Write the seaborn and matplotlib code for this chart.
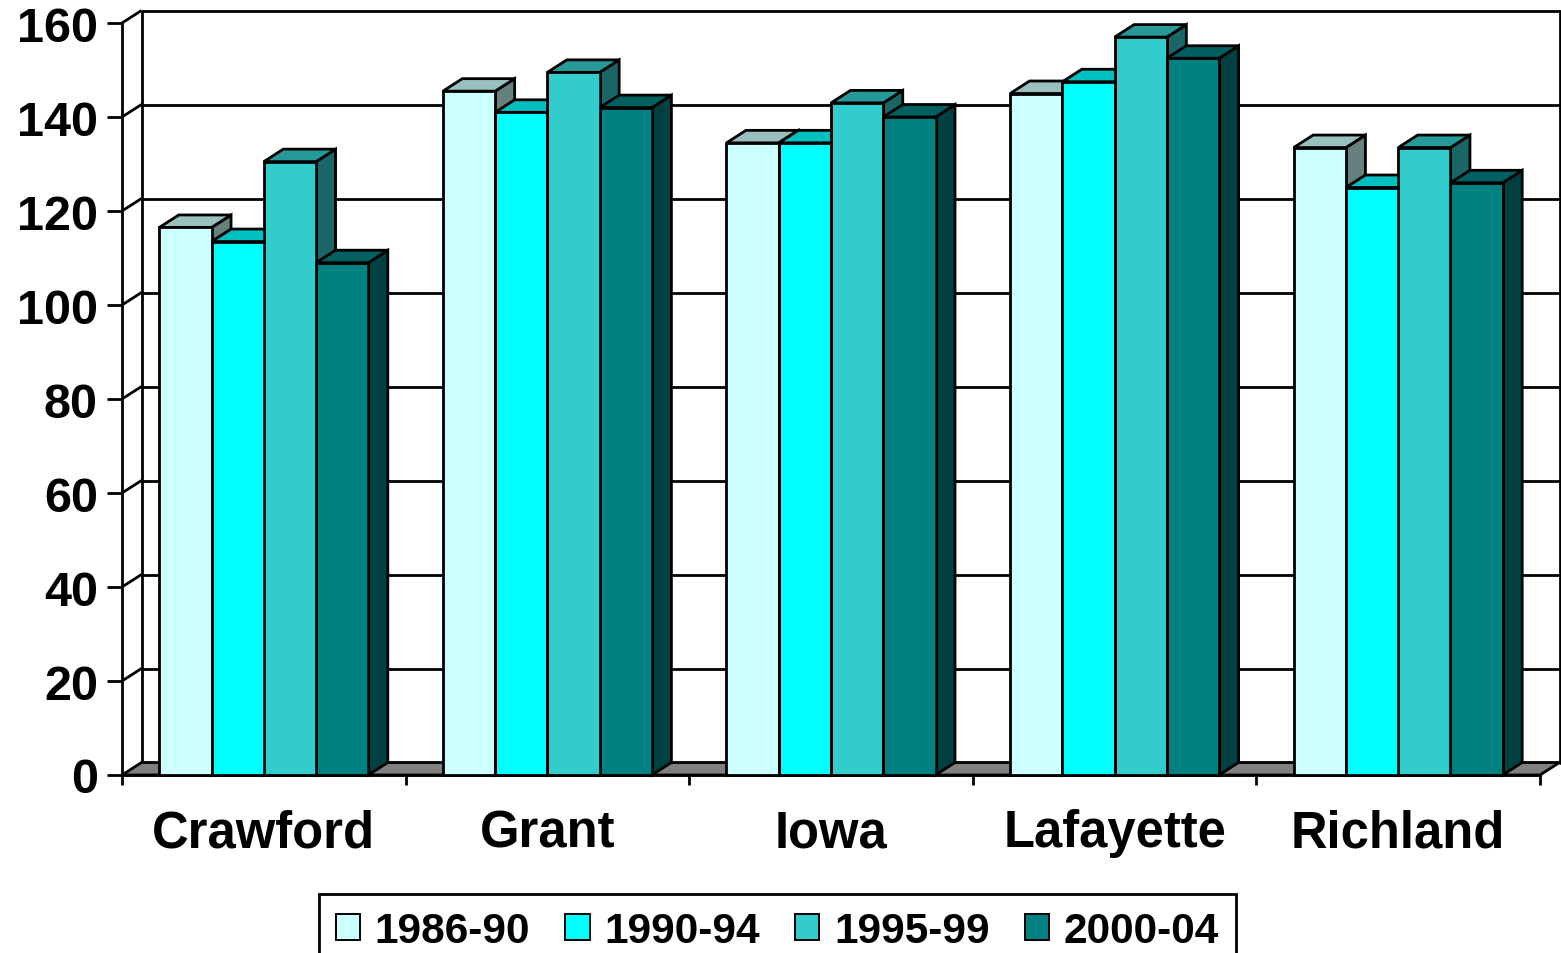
import matplotlib
matplotlib.use("Agg")
import matplotlib.pyplot as plt
from matplotlib.patches import Polygon, Rectangle
import pandas as pd
import seaborn as sns

# Average yields by county and period
counties = ["Crawford", "Grant", "Iowa", "Lafayette", "Richland"]
periods = ["1986-90", "1990-94", "1995-99", "2000-04"]
yield_1986_90 = [116.5, 145.5, 134.5, 145.0, 133.5]
yield_1990_94 = [113.5, 141.0, 134.5, 147.5, 125.0]
yield_1995_99 = [130.5, 149.5, 143.0, 157.0, 133.5]
yield_2000_04 = [109.0, 142.0, 140.0, 152.5, 126.0]
y_ticks = [0, 20, 40, 60, 80, 100, 120, 140, 160]

# Face colours: front, top (shaded) and right side (darker)
front_colors = ["#CCFFFF", "#00FFFF", "#33CCCC", "#008080"]
top_colors = ["#99BFBF", "#00BFBF", "#269999", "#006060"]
side_colors = ["#668080", "#008080", "#1A6666", "#004040"]

series = [yield_1986_90, yield_1990_94, yield_1995_99, yield_2000_04]
df = pd.DataFrame(
    [(c, p, v) for p, vals in zip(periods, series) for c, v in zip(counties, vals)],
    columns=["county", "period", "value"],
)

sns.set_style("white")
plt.rcParams["font.family"] = ["Liberation Sans", "DejaVu Sans"]
plt.rcParams["font.weight"] = "bold"
plt.rcParams["text.color"] = "black"
plt.rcParams["xtick.color"] = "black"
plt.rcParams["ytick.color"] = "black"
plt.rcParams["xtick.labelcolor"] = "black"
plt.rcParams["ytick.labelcolor"] = "black"

W, H = 1561, 954
fig = plt.figure(figsize=(W / 100, H / 100), dpi=100)
fig.patch.set_facecolor("white")

# front plane of the chart in pixels
x0, x1, y0, y1 = 122, 1540, 776, 24
ax = fig.add_axes([x0 / W, (H - y0) / H, (x1 - x0) / W, (y0 - y1) / H])
ax.set_facecolor("none")

LW = 2.0
sns.barplot(
    data=df, x="county", y="value", hue="period",
    order=counties, hue_order=periods, palette=front_colors,
    saturation=1, width=0.737, errorbar=None, legend=False,
    edgecolor="black", linewidth=LW, ax=ax,
)
ax.set_xlim(-0.5, len(counties) - 0.5)
ax.set_ylim(0, 160)
ax.set_xlabel("")
ax.set_ylabel("")

# depth of the 3-D box, converted from pixels to data units
DX_PX, DY_PX = 19.5, 12.5
p0 = ax.transData.transform((0, 0))
p1 = ax.transData.transform((1, 1))
dx = DX_PX / (p1[0] - p0[0])
dy = DY_PX / (p1[1] - p0[1])

xl, xr = -0.5, len(counties) - 0.5

# floor
ax.add_patch(Polygon([(xl, 0), (xr, 0), (xr + dx, dy), (xl + dx, dy)],
                     closed=True, facecolor="#808080", edgecolor="black",
                     linewidth=LW, zorder=2, clip_on=False))

# back wall and side wall gridlines
for t in y_ticks[1:]:
    ax.plot([xl, xl + dx], [t, t + dy], color="black", lw=LW, zorder=1,
            clip_on=False, solid_capstyle="butt")
    ax.plot([xl + dx, xr + dx], [t + dy, t + dy], color="black", lw=LW,
            zorder=1, clip_on=False, solid_capstyle="butt")
ax.plot([xl + dx, xl + dx], [dy, 160 + dy], color="black", lw=LW, zorder=1,
        clip_on=False)
ax.plot([xr + dx, xr + dx], [dy, 160 + dy], color="black", lw=LW, zorder=1,
        clip_on=False)

# shaded top and side faces of each bar, drawn left to right
bars = [b for b in ax.patches if isinstance(b, Rectangle) and b.get_height() > 0]
bars.sort(key=lambda b: b.get_x())
front_rgba = [matplotlib.colors.to_rgba(c) for c in front_colors]


def level_of(bar):
    fc = bar.get_facecolor()
    return min(range(len(front_rgba)),
               key=lambda i: sum((a - b) ** 2 for a, b in zip(fc, front_rgba[i])))


for k, bar in enumerate(bars):
    lvl = level_of(bar)
    bx0 = bar.get_x()
    bx1 = bx0 + bar.get_width()
    h = bar.get_height()
    z = 3 + k * 0.01
    ax.add_patch(Polygon([(bx1, 0), (bx1 + dx, dy), (bx1 + dx, h + dy), (bx1, h)],
                         closed=True, facecolor=side_colors[lvl],
                         edgecolor="black", linewidth=LW, zorder=z,
                         clip_on=False, joinstyle="miter"))
    ax.add_patch(Polygon([(bx0, h), (bx1, h), (bx1 + dx, h + dy), (bx0 + dx, h + dy)],
                         closed=True, facecolor=top_colors[lvl],
                         edgecolor="black", linewidth=LW, zorder=z + 0.004,
                         clip_on=False, joinstyle="miter"))
    bar.set_zorder(z + 0.005)
    bar.set_clip_on(False)

# axes: front left and bottom lines only
for side in ("top", "right"):
    ax.spines[side].set_visible(False)
for side in ("left", "bottom"):
    ax.spines[side].set_color("black")
    ax.spines[side].set_linewidth(LW)
    ax.spines[side].set_zorder(2.5)

ax.set_yticks(y_ticks)
ax.set_yticklabels([str(t) for t in y_ticks])
ax.tick_params(axis="y", which="major", direction="out", length=10.8,
               width=LW, color="black", pad=6.5, labelsize=35,
               labelcolor="black", left=True)

ax.set_xticks([i - 0.5 for i in range(len(counties) + 1)])
ax.set_xticklabels([""] * (len(counties) + 1))
ax.set_xticks(range(len(counties)), minor=True)
ax.set_xticklabels(counties, minor=True)
ax.tick_params(axis="x", which="major", direction="out", length=7.5,
               width=LW, color="black", bottom=True)
ax.tick_params(axis="x", which="minor", length=0, pad=24, labelsize=36.5,
               labelcolor="black", bottom=True)
for lab in ax.get_yticklabels() + ax.get_xticklabels(minor=True):
    lab.set_fontweight("bold")
    lab.set_color("black")

# legend
handles = [Rectangle((0, 0), 1, 1, facecolor=c, edgecolor="black", linewidth=1.4)
           for c in front_colors]
leg = fig.legend(handles, periods, loc="upper center",
                 bbox_to_anchor=(777.5 / W, 1 - 895 / H), ncol=4,
                 frameon=True, fancybox=False, framealpha=1,
                 edgecolor="black", prop={"size": 30.5, "weight": "bold"},
                 handlelength=0.57, handleheight=0.57, handletextpad=0.35,
                 columnspacing=0.83, borderpad=0.4, borderaxespad=0)
leg.get_frame().set_linewidth(LW)
for txt in leg.get_texts():
    txt.set_color("black")

fig.savefig("out.png", dpi=100)
